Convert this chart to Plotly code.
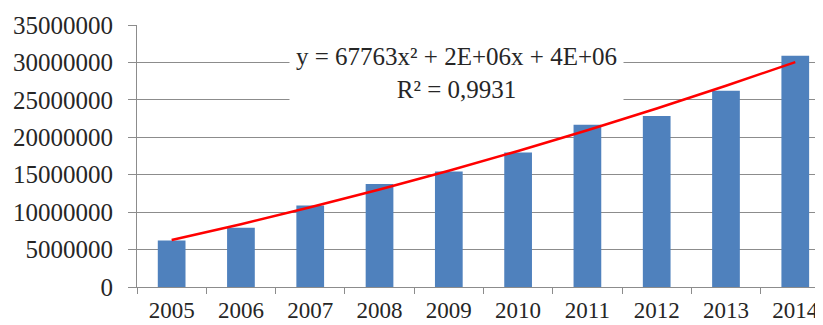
import numpy as np
import plotly.graph_objects as go

years = ["2005", "2006", "2007", "2008", "2009", "2010", "2011", "2012", "2013", "2014"]
values = [6220000, 7920000, 10900000, 13750000, 15430000, 17970000, 21670000, 22830000, 26200000, 30880000]
y_ticks = [0, 5000000, 10000000, 15000000, 20000000, 25000000, 30000000, 35000000]
equation_text = "y = 67763x² + 2E+06x + 4E+06<br>R² = 0,9931"

# Polynomial (order 2) trendline, as in the spreadsheet, fitted to the data
xi = np.arange(1, len(values) + 1)
coef = np.polyfit(xi, values, 2)
trend = np.polyval(coef, xi)

font = "'Liberation Serif', 'Times New Roman', 'DejaVu Serif', serif"
grid = "#8c8c8c"

fig = go.Figure()
fig.add_trace(go.Bar(x=years, y=values, marker=dict(color="#4F81BD", line=dict(width=0)),
                     width=0.4, showlegend=False))
fig.add_trace(go.Scatter(x=years, y=trend, mode="lines", line=dict(color="#FF0000", width=2.5),
                         showlegend=False))

fig.add_annotation(text=equation_text, xref="paper", yref="y", x=0.466, y=28550000,
                   showarrow=False, bgcolor="white", borderpad=6, align="center",
                   font=dict(family=font, size=25, color="#262626"))

# the page body has an 8px margin, so the figure is sized/offset to compensate
fig.update_layout(
    width=815, height=317,
    margin=dict(l=129, r=0, t=17, b=38),
    paper_bgcolor="white", plot_bgcolor="white",
    font=dict(family=font, size=25, color="#262626"),
    bargap=0.6,
)
fig.update_xaxes(type="category", range=[-0.5, 9.4], showline=True, linecolor=grid, linewidth=1,
                 ticks="outside", ticklen=6, tickcolor=grid, tickson="boundaries",
                 showgrid=False, ticklabelstandoff=2, tickfont=dict(family=font, size=23),
                 automargin=False)
fig.update_yaxes(range=[0, 35000000], tickvals=y_ticks, ticktext=[str(v) for v in y_ticks],
                 showgrid=True, gridcolor=grid, gridwidth=1, showline=True, linecolor=grid,
                 ticks="outside", ticklen=8, tickcolor=grid, ticklabelstandoff=10,
                 zeroline=False, tickfont=dict(family=font, size=25), automargin=False)

fig.write_html("out.html")
